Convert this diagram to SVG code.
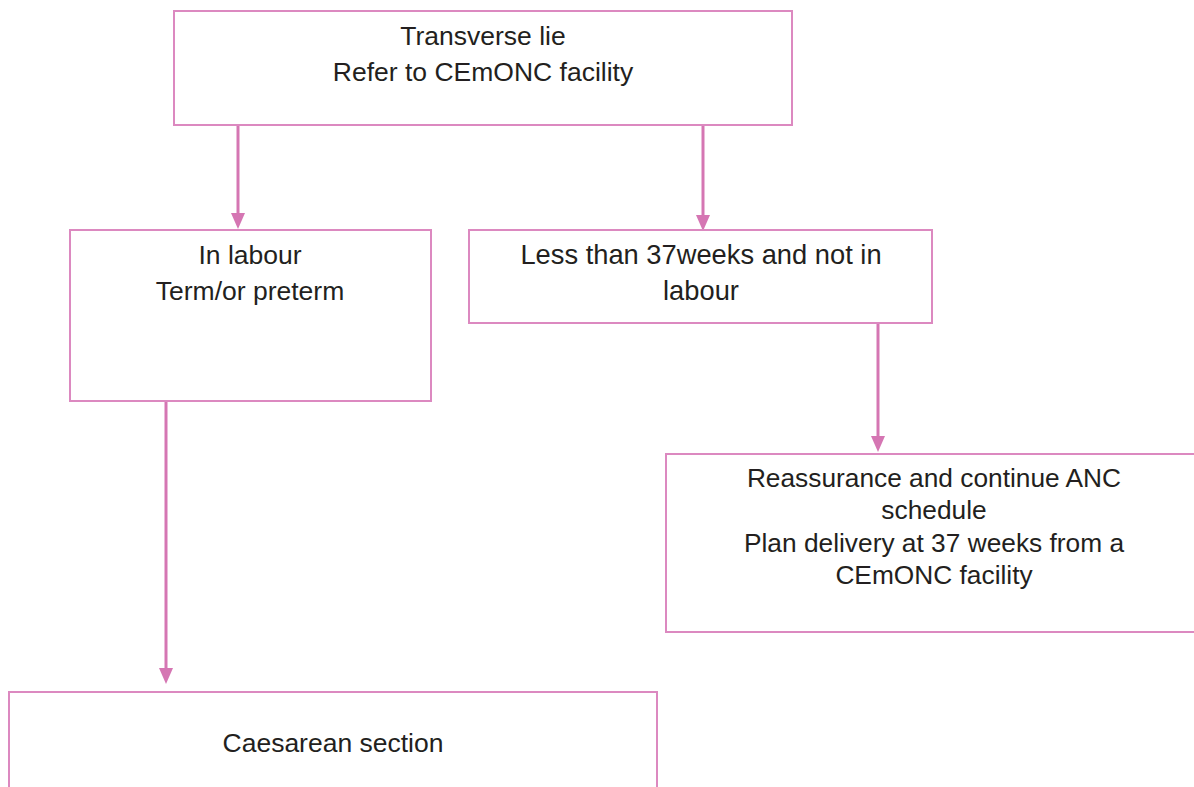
<svg xmlns="http://www.w3.org/2000/svg" width="1194" height="787" viewBox="0 0 1194 787">
  <defs>
    <style>
      .box { fill: #ffffff; stroke: #dc89c0; stroke-width: 2; }
      .conn { fill: none; stroke: #d576b3; stroke-width: 3; }
      .head { fill: #d576b3; }
      text { font-family: "Liberation Sans", Arial, sans-serif; font-size: 26.5px; fill: #231f20; text-anchor: middle; }
      .wide { font-size: 27.3px; }
      .mid { font-size: 26.3px; }
    </style>
  </defs>
  <rect width="1194" height="787" fill="#ffffff"/>

  <g id="connectors">
    <line class="conn" x1="238" y1="125" x2="238" y2="214"/>
    <path class="head" d="M231,213 L245,213 L238,229 Z"/>
    <line class="conn" x1="703" y1="125" x2="703" y2="216"/>
    <path class="head" d="M696,215 L710,215 L703,231 Z"/>
    <line class="conn" x1="878" y1="323" x2="878" y2="437"/>
    <path class="head" d="M871,436 L885,436 L878,452 Z"/>
    <line class="conn" x1="166" y1="401" x2="166" y2="669"/>
    <path class="head" d="M159,668 L173,668 L166,684 Z"/>
  </g>

  <g id="node-transverse">
    <rect class="box" x="174" y="11" width="618" height="114"/>
    <text x="483" y="45">Transverse lie</text>
    <text x="483" y="81">Refer to CEmONC facility</text>
  </g>

  <g id="node-in-labour">
    <rect class="box" x="70" y="230" width="361" height="171"/>
    <text x="250" y="264">In labour</text>
    <text x="250" y="300">Term/or preterm</text>
  </g>

  <g id="node-preterm">
    <rect class="box" x="469" y="230" width="463" height="93"/>
    <text class="wide" x="701" y="264">Less than 37weeks and not in</text>
    <text class="wide" x="701" y="300">labour</text>
  </g>

  <g id="node-reassurance">
    <rect class="box" x="666" y="454" width="540" height="178"/>
    <text class="mid" x="934" y="487">Reassurance and continue ANC</text>
    <text class="mid" x="934" y="519">schedule</text>
    <text class="mid" x="934" y="552">Plan delivery at 37 weeks from a</text>
    <text class="mid" x="934" y="584">CEmONC facility</text>
  </g>

  <g id="node-caesarean">
    <rect class="box" x="9" y="692" width="648" height="110"/>
    <text x="333" y="752">Caesarean section</text>
  </g>
</svg>
